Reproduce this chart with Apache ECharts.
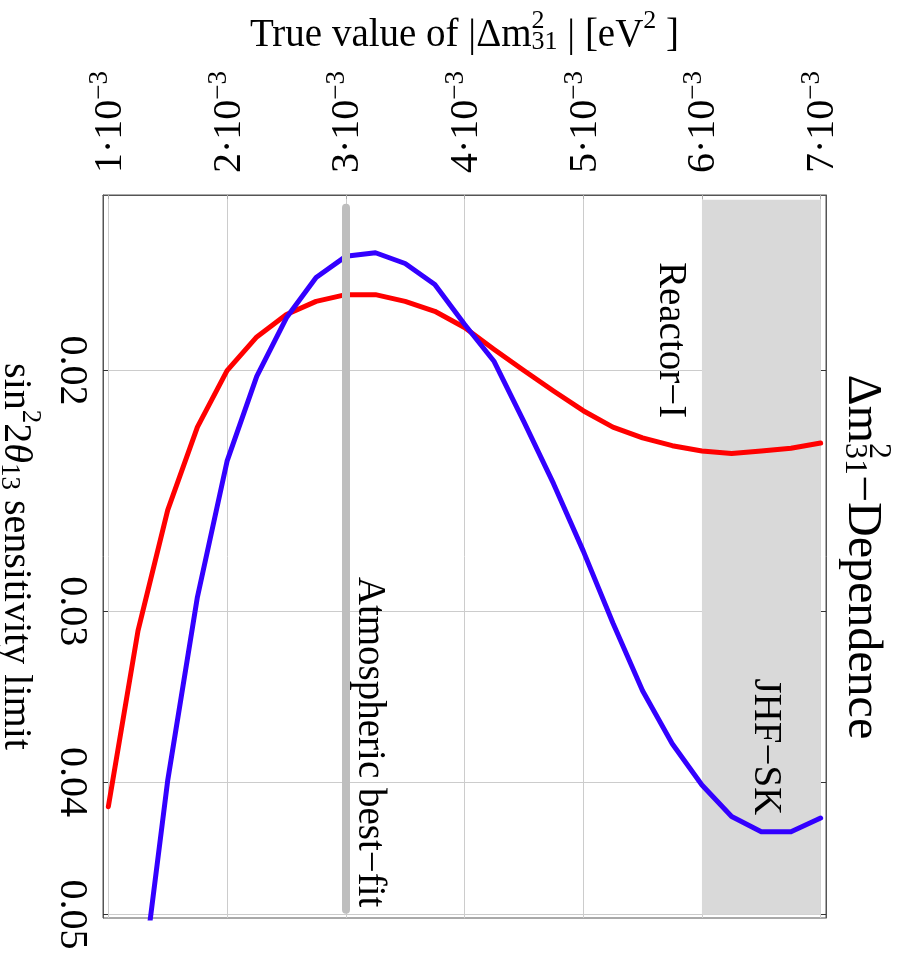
<!DOCTYPE html>
<html>
<head>
<meta charset="utf-8">
<script src="https://cdn.jsdelivr.net/npm/echarts@6/dist/echarts.min.js"></script>
<style>
  html, body { margin: 0; padding: 0; background: #fff; }
  #chart { width: 902px; height: 953px; }
</style>
</head>
<body>
<div id="chart"></div>
<script>
// true |dm^2_31| in units of 1e-3 eV^2
const dm31 = [1.00, 1.25, 1.50, 1.75, 2.00, 2.25, 2.50, 2.75, 3.00, 3.25, 3.50, 3.75, 4.00,
  4.25, 4.50, 4.75, 5.00, 5.25, 5.50, 5.75, 6.00, 6.25, 6.50, 6.75, 7.00]
// sin^2 2theta13 sensitivity limits
const reactorI = [0.0417, 0.0310, 0.0253, 0.0220, 0.0200, 0.0189, 0.0182, 0.0178, 0.0176, 0.0176,
  0.0178, 0.0181, 0.0186, 0.0193, 0.0200, 0.0207, 0.0214, 0.0220, 0.0224, 0.0227, 0.0229, 0.0230,
  0.0229, 0.0228, 0.0226]
const jhfSK = [null, 0.0594, 0.0399, 0.0293, 0.0233, 0.0202, 0.0183, 0.0171, 0.0165, 0.0164,
  0.0167, 0.0173, 0.0185, 0.0197, 0.0218, 0.0242, 0.0271, 0.0306, 0.0343, 0.0375, 0.0402, 0.0424,
  0.0435, 0.0435, 0.0425]

const dmTicks = [1, 2, 3, 4, 5, 6, 7]
const sensTicks = [0.02, 0.03, 0.04, 0.05]
const sensRange = [0.01488, 0.0503]

const bandX = [6, 7]
const bandY = [0.015, 0.05]
const bestFitX = 3
const bestFitY = [0.0152, 0.0496]

const noteText = ['Reactor−I', 'JHF−SK', 'Atmospheric best−fit']
const noteX = [5.73, 6.53, 3.20]
const noteY = [0.0190, 0.0377, 0.0374]

const FONT = 'Liberation Serif'
const lg = v => Math.log10(v)

function toPoints(ys) {
  const pts = []
  ys.forEach((v, i) => {
    if (v != null) pts.push([dm31[i], lg(v)])
  })
  return pts
}

// rich text pieces; every token left aligned so a zero-width superscript stacks over the subscript
function richSet(big, small, colorKey) {
  const c = {}
  c[colorKey] = '#000'
  return {
    t: Object.assign({ fontFamily: FONT, fontSize: big, lineHeight: big + 8, verticalAlign: 'bottom', align: 'left' }, c),
    it: Object.assign({ fontFamily: FONT, fontSize: big, fontStyle: 'italic', lineHeight: big + 8, verticalAlign: 'bottom', align: 'left' }, c),
    sup: Object.assign({ fontFamily: FONT, fontSize: small, lineHeight: small, verticalAlign: 'top', align: 'left' }, c),
    supz: Object.assign({ fontFamily: FONT, fontSize: small, lineHeight: small, verticalAlign: 'top', align: 'left', width: 0 }, c),
    sub: Object.assign({ fontFamily: FONT, fontSize: small, lineHeight: small, verticalAlign: 'bottom', align: 'left' }, c)
  }
}

const chart = echarts.init(document.getElementById('chart'))

const yAxisBase = {
  type: 'value',
  inverse: true,
  min: lg(sensRange[0]),
  max: lg(sensRange[1]),
  axisLine: { show: true, lineStyle: { color: '#555', width: 1 } },
  axisTick: { show: true, inside: true, length: 5, lineStyle: { color: '#333' }, customValues: sensTicks.map(lg) },
  splitLine: { show: true, lineStyle: { color: '#cccccc', width: 1 } }
}

chart.setOption({
  animation: false,
  grid: {
    left: 103,
    right: 76,
    top: 195,
    bottom: 35,
    outerBoundsMode: 'none',
    containLabel: false,
    show: true,
    borderColor: '#555',
    borderWidth: 1
  },
  xAxis: {
    type: 'value',
    position: 'top',
    min: 0.955,
    max: 7.045,
    name: '{t|True value of |Δm}{supz|2}{sub|31}{t| | [eV}{sup|2}{t| ]}',
    nameLocation: 'middle',
    nameGap: 140,
    nameTextStyle: { rich: richSet(39, 26, 'color') },
    axisLine: { show: true, lineStyle: { color: '#555', width: 1 } },
    axisTick: { show: true, inside: true, length: 4, lineStyle: { color: '#aaa' }, customValues: dmTicks },
    splitLine: { show: true, lineStyle: { color: '#cccccc', width: 1 } },
    axisLabel: {
      customValues: dmTicks,
      rotate: -90,
      margin: 22,
      formatter: v => '{b|' + Math.round(v) + '·10}{s|−3}',
      rich: {
        b: { fontFamily: FONT, fontSize: 40, color: '#000', lineHeight: 44, verticalAlign: 'bottom' },
        s: { fontFamily: FONT, fontSize: 27, color: '#000', lineHeight: 24, verticalAlign: 'top' }
      }
    }
  },
  yAxis: [
    Object.assign({}, yAxisBase, {
      position: 'left',
      name: '{t|sin}{sup|2}{t|2}{it|θ}{sub|13}{t| sensitivity limit}',
      nameLocation: 'middle',
      nameRotate: -90,
      nameGap: 55,
      nameTextStyle: { rich: richSet(40, 27, 'color') },
      axisLabel: {
        customValues: sensTicks.map(lg),
        rotate: -90,
        margin: 12,
        fontFamily: FONT,
        fontSize: 40,
        color: '#000',
        formatter: v => Math.pow(10, v).toFixed(2)
      }
    }),
    Object.assign({}, yAxisBase, {
      position: 'right',
      axisLabel: { show: false },
      splitLine: { show: false }
    })
  ],
  graphic: [
    {
      type: 'text',
      x: 866,
      y: 557,
      rotation: -Math.PI / 2,
      style: {
        text: '{t|Δm}{supz|2}{sub|31}{t|−Dependence}',
        align: 'center',
        verticalAlign: 'middle',
        rich: richSet(48, 32, 'fill')
      }
    }
  ],
  series: [
    {
      name: 'marks',
      type: 'line',
      data: [],
      silent: true,
      z: 1,
      markArea: {
        silent: true,
        itemStyle: { color: '#d9d9d9' },
        data: [[
          { coord: [bandX[0], lg(bandY[0])] },
          { coord: [bandX[1], lg(bandY[1])] }
        ]]
      },
      markLine: {
        silent: true,
        symbol: ['none', 'none'],
        label: { show: false },
        lineStyle: { color: '#bebebe', width: 8, type: 'solid', cap: 'round' },
        data: [[
          { coord: [bestFitX, lg(bestFitY[0])] },
          { coord: [bestFitX, lg(bestFitY[1])] }
        ]]
      }
    },
    {
      name: 'Reactor-I',
      type: 'line',
      data: toPoints(reactorI),
      showSymbol: false,
      z: 3,
      lineStyle: { color: '#ff0000', width: 5, cap: 'round', join: 'round' }
    },
    {
      name: 'JHF-SK',
      type: 'line',
      data: toPoints(jhfSK),
      showSymbol: false,
      z: 3,
      lineStyle: { color: '#3300ff', width: 5, cap: 'round', join: 'round' }
    },
    {
      name: 'notes',
      type: 'scatter',
      symbolSize: 0,
      silent: true,
      z: 4,
      itemStyle: { color: '#000', opacity: 1 },
      data: noteText.map((t, i) => ({ value: [noteX[i], lg(noteY[i])], name: t })),
      label: {
        show: true,
        position: 'inside',
        rotate: -90,
        formatter: p => p.name,
        fontFamily: FONT,
        fontSize: 39,
        color: '#000',
        opacity: 1,
        textBorderWidth: 0
      }
    }
  ]
})
</script>
</body>
</html>
